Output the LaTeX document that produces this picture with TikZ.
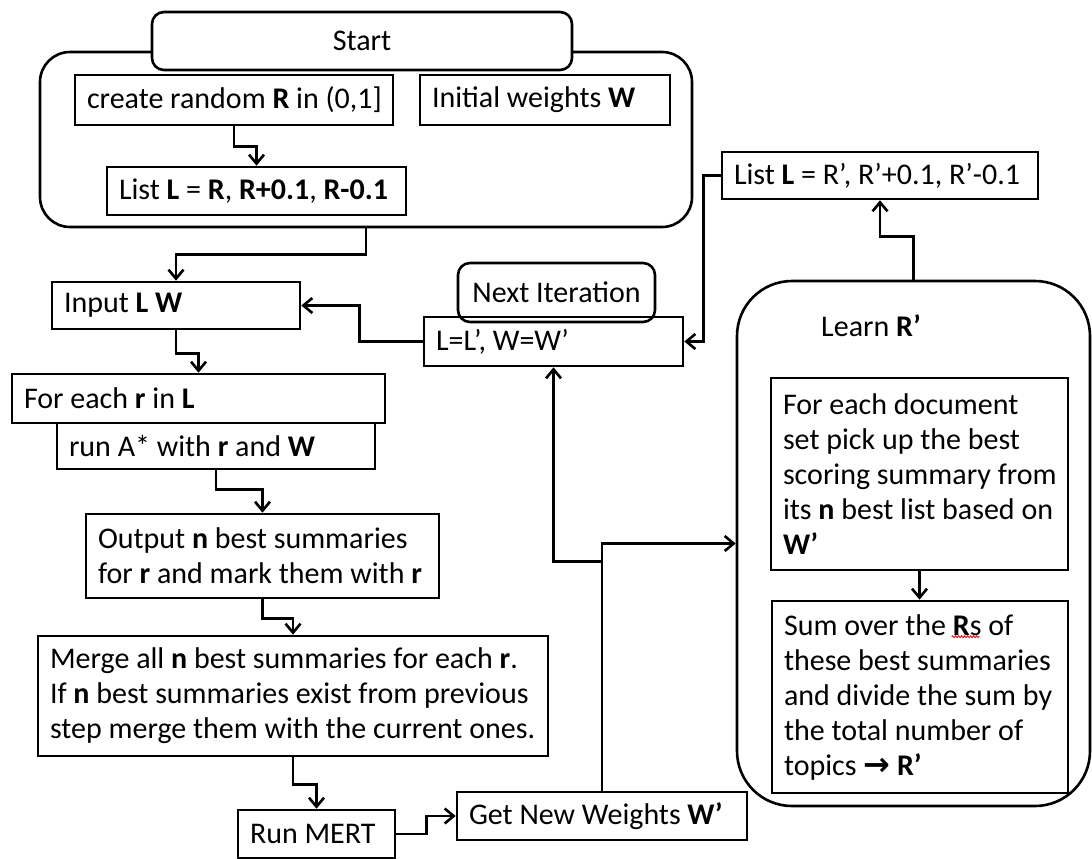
\documentclass[tikz,border=0pt]{standalone}
\usepackage{fontspec}
\setmainfont{Carlito}
\newfontfamily\symfont{DejaVu Sans}
\usetikzlibrary{arrows.meta,calc,decorations.pathmorphing}

\begin{document}
\begin{tikzpicture}[x=1pt,y=-1pt,
  txt/.style={font=\fontsize{30}{35}\selectfont},
  box/.style={draw, line width=2.6pt, txt, inner xsep=12pt, inner ysep=2pt, align=flush left},
  rbox/.style={draw, line width=2.6pt, txt, rounded corners=12pt, align=center},
  flow/.style={line width=2.6pt, -{Straight Barb[length=9pt,width=15pt]}},
]
\useasboundingbox (0,0) rectangle (1092,859);
\fill[white] (0,0) rectangle (1092,859);

% initialisation block
\node[draw, line width=2.6pt, rounded corners=30pt, minimum width=652pt, minimum height=175pt] (startouter) at (366,139.5) {};
\node[rbox, fill=white, minimum width=420pt, minimum height=58pt] (startlbl) at (362,41) {Start};
\node[box, text width=294pt, minimum height=50pt] (create) at (234,100) {\mbox{create random \textbf{R} in (0,1]}};
\node[box, text width=226pt, minimum height=50pt] (initw) at (545,100) {\mbox{Initial weights \textbf{W}}};
\node[box, text width=275pt, minimum height=48pt] (listL) at (256.5,191) {\mbox{List \textbf{L} = \textbf{R}, \textbf{R+0.1}, \textbf{R-0.1}}};

% main loop
\node[box, text width=224pt, minimum height=47pt] (input) at (176,305.5) {\mbox{Input \textbf{L W}}};
\node[box, text width=349pt, minimum height=49pt] (foreach) at (198.5,398.5) {\mbox{For each \textbf{r} in \textbf{L}}};
\node[box, text width=294pt, minimum height=46pt] (runA) at (216,446) {\mbox{run A* with \textbf{r} and \textbf{W}}};
\node[box, text width=329pt, minimum height=84pt] (output) at (262.5,556) {\mbox{Output \textbf{n} best summaries}\\\mbox{for \textbf{r} and mark them with \textbf{r}}};
\node[box, text width=486pt, minimum height=120pt] (merge) at (293,696) {\mbox{Merge all \textbf{n} best summaries for each \textbf{r}.}\\\mbox{If \textbf{n} best summaries exist from previous}\\\mbox{step merge them with the current ones.}};
\node[box, text width=133pt, minimum height=48pt] (mert) at (316.5,834) {\mbox{Run MERT}};
\node[box, text width=266pt, minimum height=48pt] (getw) at (602,816) {\mbox{Get New Weights \textbf{W’}}};

% next iteration
\node[box, text width=235pt, minimum height=49pt] (lupd) at (553.5,341.5) {\mbox{L=L’, W=W’}};
\node[rbox, minimum width=197pt, minimum height=59pt] (nextit) at (556.5,292.5) {Next Iteration};
\node[box, text width=292pt, minimum height=47pt] (listR) at (880,175.5) {\mbox{List \textbf{L} = R’, R’+0.1, R’-0.1}};

% learning R'
\node[draw, line width=2.6pt, rounded corners=55pt, minimum width=353pt, minimum height=525pt] (learn) at (913.5,543.5) {};
\node[txt] (learnlbl) at (871,326) {Learn \textbf{R’}};
\node[box, text width=273pt, minimum height=192pt] (docset) at (919.5,474) {\mbox{For each document}\\\mbox{set pick up the best}\\\mbox{scoring summary from}\\\mbox{its \textbf{n} best list based on}\\\mbox{\textbf{W’}}};
\node[box, text width=272pt, minimum height=192pt] (sumbox) at (920,697) {\mbox{Sum over the \textbf{R}s of}\\\mbox{these best summaries}\\\mbox{and divide the sum by}\\\mbox{the total number of}\\\mbox{topics {\symfont\bfseries\fontsize{32}{35}\selectfont →} \textbf{R’}}};
% spell-check underline beneath "Rs"
\draw[red, line width=0.8pt, decorate, decoration={snake, amplitude=1pt, segment length=3pt}] ($(sumbox.north west)+(181,37)$) -- ++(28,0);

% connectors
\draw[flow] (create.south) -- ++(0,20) -| (listL.north);
\draw[flow] (startouter.south) -- ++(0,26) -| (input.north);
\draw[flow] (input.south) -- ++(0,23) -| (foreach.north);
\draw[flow] (runA.south) -- ++(0,19) -| (output.north);
\draw[flow] (output.south) -- ++(0,19) -| (merge.north);
\draw[flow] (merge.south) -- ++(0,27) -| (mert.north);
\draw[flow] (mert.east) -- ++(30,0) |- (getw.west);
\draw[flow] (getw.north) |- (learn.west);
\coordinate (split) at ($(getw.north)+(0,-229)$);
\draw[flow] (split) -| (lupd.south);
\draw[flow] (learn.north) -- ++(0,-43) -| (listR.south);
\draw[flow] (listR.west) -- ++(-17,0) |- (lupd.east);
\draw[flow] (lupd.west) -- ++(-63,0) |- (input.east);
\draw[flow] (docset.south) -- (docset.south |- sumbox.north);
\end{tikzpicture}
\end{document}
